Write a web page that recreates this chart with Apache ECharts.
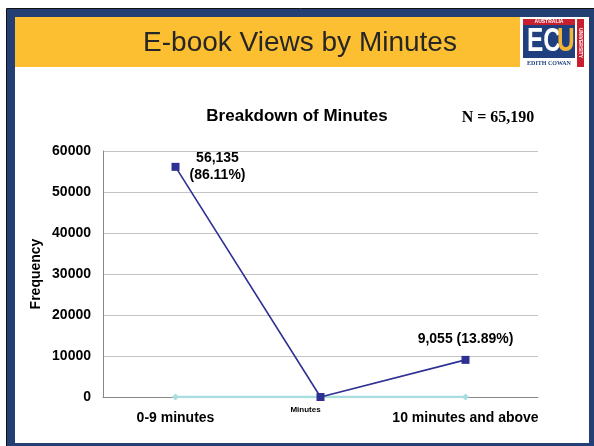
<!DOCTYPE html>
<html>
<head>
<meta charset="utf-8">
<script src="https://cdn.jsdelivr.net/npm/echarts@6/dist/echarts.min.js"></script>
<style>
html, body { margin: 0; padding: 0; background: #fff; }
#chart { width: 594px; height: 446px; }
</style>
</head>
<body>
<div id="chart"></div>
<script>
var categories = ['0-9 minutes', '', '10 minutes and above'];
var frequency = [56135, 0, 9055];
var percents = [86.11, null, 13.89];
var baseline = [0, 0, 0];
var yTicks = { min: 0, max: 60000, interval: 10000 };
var totalN = 65190;

function fmt(n) {
    return n.toString().replace(/\B(?=(\d{3})+(?!\d))/g, ',');
}

var font = 'Arial, "Liberation Sans", sans-serif';
var navy = '#243f73';

var dom = document.getElementById('chart');
var myChart = echarts.init(dom);

var lineData = frequency.map(function (v, i) {
    var item = { value: v };
    if (percents[i] == null) {
        item.label = { show: false };
    } else if (i === 0) {
        item.label = {
            show: true,
            position: 'inside',
            offset: [42, 0],
            formatter: fmt(v) + '\n(' + percents[i].toFixed(2) + '%)'
        };
    } else {
        item.label = {
            show: true,
            position: 'top',
            distance: 8,
            formatter: fmt(v) + ' (' + percents[i].toFixed(2) + '%)'
        };
    }
    return item;
});

option = {
    backgroundColor: '#fff',
    animation: false,
    title: {
        text: 'Breakdown of Minutes',
        left: 'center',
        top: 103,
        textStyle: { fontFamily: font, fontSize: 17, fontWeight: 'bold', color: '#000' }
    },
    grid: { left: 103, right: 56, top: 151, bottom: 49 },
    xAxis: {
        type: 'category',
        data: categories,
        boundaryGap: true,
        name: 'Minutes',
        nameLocation: 'middle',
        nameGap: 9,
        nameMoveOverlap: false,
        nameTextStyle: {
            fontFamily: font, fontSize: 8, fontWeight: 'bold', color: '#000',
            verticalAlign: 'top', padding: [0, 30, 0, 0]
        },
        axisLine: { lineStyle: { color: '#888', width: 1 } },
        axisTick: { show: false },
        axisLabel: {
            fontFamily: font, fontSize: 14, fontWeight: 'bold', color: '#000',
            margin: 14, interval: 0
        }
    },
    yAxis: {
        type: 'value',
        min: yTicks.min,
        max: yTicks.max,
        interval: yTicks.interval,
        name: 'Frequency',
        nameLocation: 'middle',
        nameGap: 60,
        nameMoveOverlap: false,
        nameTextStyle: { fontFamily: font, fontSize: 14, fontWeight: 'bold', color: '#000' },
        axisLine: { show: true, lineStyle: { color: '#888', width: 1 } },
        axisTick: { show: false },
        axisLabel: {
            fontFamily: font, fontSize: 14, fontWeight: 'bold', color: '#000', margin: 12,
            formatter: function (v) { return String(v); }
        },
        splitLine: { lineStyle: { color: '#c4c4c4', width: 1 } }
    },
    series: [
        {
            name: 'base',
            type: 'line',
            data: baseline,
            symbol: 'diamond',
            symbolSize: 7,
            itemStyle: { color: '#a9dde0' },
            lineStyle: { color: '#a9dde0', width: 2.5 },
            z: 2
        },
        {
            name: 'Frequency',
            type: 'line',
            data: lineData,
            symbol: 'rect',
            symbolSize: 8,
            itemStyle: { color: '#2e3192' },
            lineStyle: { color: '#2e3192', width: 1.6 },
            label: {
                fontFamily: font, fontSize: 14, fontWeight: 'bold', color: '#000',
                lineHeight: 17, align: 'center'
            },
            z: 3
        }
    ],
    graphic: [
        // slide frame
        { type: 'rect', shape: { x: 6.5, y: 8.5, width: 590, height: 442 },
          style: { fill: null, stroke: '#111', lineWidth: 1 }, silent: true },
        { type: 'rect', shape: { x: 11, y: 13, width: 582, height: 434 },
          style: { fill: null, stroke: navy, lineWidth: 8 }, silent: true },
        // header band
        { type: 'rect', shape: { x: 15, y: 17, width: 505, height: 50 },
          style: { fill: '#fcbf31' }, silent: true },
        { type: 'text', x: 300, y: 43,
          style: { text: 'E-book Views by Minutes', fontFamily: font, fontSize: 28,
                   fill: '#262626', align: 'center', verticalAlign: 'middle' }, silent: true },
        // logo
        { type: 'rect', shape: { x: 520, y: 17, width: 69, height: 52 },
          style: { fill: '#fff' }, silent: true },
        { type: 'rect', shape: { x: 523, y: 19, width: 52, height: 6 },
          style: { fill: '#c8202f' }, silent: true },
        { type: 'text', x: 549, y: 22,
          style: { text: 'AUSTRALIA', fontFamily: font, fontSize: 5, fontWeight: 'bold',
                   fill: '#fff', align: 'center', verticalAlign: 'middle' }, silent: true },
        { type: 'rect', shape: { x: 523, y: 25, width: 52, height: 33 },
          style: { fill: '#1f3f7f' }, silent: true },
        { type: 'text', x: 527, y: 42, scaleX: 0.72,
          style: { text: 'EC', fontFamily: font, fontSize: 34, fontWeight: 'bold',
                   fill: '#fff', align: 'left', verticalAlign: 'middle' }, silent: true },
        { type: 'text', x: 557, y: 42, scaleX: 0.72,
          style: { text: 'U', fontFamily: font, fontSize: 34, fontWeight: 'bold',
                   fill: '#f2b534', align: 'left', verticalAlign: 'middle' }, silent: true },
        { type: 'text', x: 549, y: 63,
          style: { text: 'EDITH COWAN', fontFamily: '"Liberation Serif", serif', fontSize: 6,
                   fontWeight: 'bold', fill: '#1f3f7f', align: 'center', verticalAlign: 'middle' }, silent: true },
        { type: 'rect', shape: { x: 577, y: 19, width: 7, height: 48 },
          style: { fill: '#c8202f' }, silent: true },
        { type: 'text', x: 580.5, y: 43, rotation: -Math.PI / 2,
          style: { text: 'UNIVERSITY', fontFamily: font, fontSize: 5, fontWeight: 'bold',
                   fill: '#fff', align: 'center', verticalAlign: 'middle' }, silent: true },
        // sample size
        { type: 'text', x: 498, y: 118,
          style: { text: 'N = ' + fmt(totalN), fontFamily: '"Times New Roman", "Liberation Serif", serif',
                   fontSize: 16, fontWeight: 'bold', fill: '#000', align: 'center', verticalAlign: 'middle' },
          silent: true }
    ]
};

if (option && typeof option === "object") {
    myChart.setOption(option, true);
}
</script>
</body>
</html>
